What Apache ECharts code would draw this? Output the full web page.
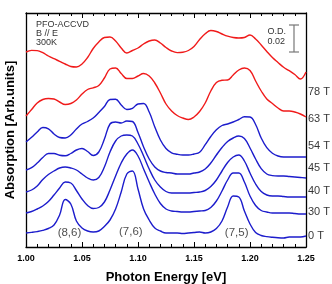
<!DOCTYPE html>
<html><head><meta charset="utf-8">
<script src="https://cdn.jsdelivr.net/npm/echarts@6/dist/echarts.min.js"></script>
<style>html,body{margin:0;padding:0;background:#fff}#c{width:332px;height:284px}</style>
</head><body><div id="c"></div>
<script>
// Photon energy grid (eV)
const energies = [1.000,1.005,1.010,1.015,1.020,1.025,1.030,1.035,1.040,1.045,1.050,1.055,1.060,1.065,1.070,1.075,1.080,1.085,1.090,1.095,1.100,1.105,1.110,1.115,1.120,1.125,1.130,1.135,1.140,1.145,1.150,1.155,1.160,1.165,1.170,1.175,1.180,1.185,1.190,1.195,1.200,1.205,1.210,1.215,1.220,1.225,1.230,1.235,1.240,1.245,1.250];
// Absorption (arb. units, offset traces)
const abs0T  = [14,14.6,15.4,16.6,18.5,22,32,47.5,43,26,19,16,15,16,20.5,27,38,55,73,76,58,38,27,19,16,14,14,14,13.5,14,14.5,15,14,15,18.5,26,40,51,50,36,23,14.5,11.5,10.4,9.7,9.2,9,10,10,10,11];
const abs30T = [34,35.5,38,41,45.5,52,59,65,64,56.5,48,41.5,38.5,39.5,45,57,71,84,93,97,91,78,65,53,43.5,38,36,35.5,35,35,35.5,36,36.5,39.5,46,56,67,74,74,65,51,41.5,36.5,35,34,34,34,34,33.5,33,33];
const abs40T = [55,57,61,67.5,72.5,76,79,80,79,77,73,69,67,69.5,80,95,106,111,112,111,103,91,78,67,60,55.5,54,54,54,54,54.5,55,56.5,60.5,67,76,84.5,90,92,86,74,63,55.5,52,51,51,50.5,50,50,50,50];
const abs45T = [77,79.4,84,89.5,93.5,93.5,91.7,91.2,93.5,97,98.5,95.5,91.5,95,108,123,125,124,126,125.5,114.5,100,88,80,76,74.5,74,73,73,73,74,75,78,84,92,99.5,105.5,109,111,108.5,99,88,78.3,73,71.4,71,71,70.5,70,69.5,69];
const abs54T = [105,109.7,115,119.5,118.2,113,109.5,109,112,118,123,125.5,129,134.5,140.5,147.5,147.7,142,137.5,138.7,143,143.5,135,120,107,98.5,94.2,92.7,92,92,93,94.7,102.3,110.5,117.2,121.5,123,125,127.5,130.2,130,122.5,109,99.3,93.8,91,90,90,90,90,90];
const abs63T = [131,137.5,144,147.5,148.5,148,145,142.5,143.5,147,153,157.5,159.2,161.5,169,178,179,173.5,168.5,168.5,171,173.5,171,164,154,143,136,131.5,129,127.5,130,135.5,144,156,164.5,166.7,167,172,177,179,176.5,166,156,148,143.5,139,136,136,135,133,130];
const abs78T = [195,196.6,196.4,194.3,191,188.3,185.7,183,180.5,180,183,189.5,198.5,205,209.5,210,206,199,194,196.5,199,203,206,207,204,199.5,196,194.4,194.8,196.5,200.5,207.5,213.2,216.5,215.5,213,210.8,209.5,209,209.5,212,208,202,195.5,189.5,184.5,179.7,176.3,172.5,168,175];
// Field labels on the right edge
const fieldNames  = ['0 T','30 T','40 T','45 T','54 T','63 T','78 T'];
const fieldLevels = [11,35,56,79,101,128,155];
// Peak assignment labels
const peakNames    = ['(8,6)','(7,6)','(7,5)'];
const peakEnergies = [1.0388,1.0936,1.1881];
const peakLevels   = [14.3,14.7,14.3];

const RED = '#f01a1a', BLUE = '#1c1ccc';
const FONT = 'Liberation Sans, Arial, sans-serif';
const traces = [
  {name:'0 T', d:abs0T, c:BLUE},{name:'30 T', d:abs30T, c:BLUE},{name:'40 T', d:abs40T, c:BLUE},
  {name:'45 T', d:abs45T, c:BLUE},{name:'54 T', d:abs54T, c:BLUE},{name:'63 T', d:abs63T, c:RED},
  {name:'78 T', d:abs78T, c:RED}
];
const series = traces.map(t => ({
  type:'line', name:t.name, data: energies.map((e,i)=>[e,t.d[i]]),
  showSymbol:false, symbol:'none', smooth:0.4,
  lineStyle:{color:t.c, width:1.4}, itemStyle:{color:t.c}, z:3
}));
series.push({
  type:'scatter', name:'fields', clip:false, symbolSize:0,
  data: fieldNames.map((n,i)=>({name:n, value:[1.25, fieldLevels[i]]})),
  label:{show:true, position:'right', distance:2, formatter:p=>p.name,
         fontFamily:FONT, fontSize:11, color:'#000'}
});
series.push({
  type:'scatter', name:'peaks', clip:false, symbolSize:0,
  data: peakNames.map((n,i)=>({name:n, value:[peakEnergies[i], peakLevels[i]]})),
  label:{show:true, position:'inside', formatter:p=>p.name,
         fontFamily:FONT, fontSize:11.5, color:'#222'}
});

const axisLine = {show:true, onZero:false, lineStyle:{color:'#000', width:1.3}};
const chart = echarts.init(document.getElementById('c'), null, {renderer:'canvas'});
chart.setOption({
  animation:false,
  grid:{left:26, right:26, top:13, bottom:37, containLabel:false, outerBoundsMode:'none'},
  xAxis:[{
    type:'value', min:1.0, max:1.25, interval:0.05, position:'bottom',
    axisLine, splitLine:{show:false},
    axisTick:{show:true, inside:true, length:5, lineStyle:{color:'#000', width:1}},
    minorTick:{show:true, splitNumber:5, length:3, lineStyle:{color:'#000', width:1}},
    axisLabel:{formatter:v=>v.toFixed(2), fontFamily:FONT, fontWeight:'bold', fontSize:9, color:'#000', margin:7},
    name:'Photon Energy [eV]', nameLocation:'middle', nameGap:24,
    nameTextStyle:{fontFamily:FONT, fontWeight:'bold', fontSize:13, color:'#000'}
  },{
    type:'value', min:1.0, max:1.25, interval:0.05, position:'top',
    axisLine, splitLine:{show:false},
    axisTick:{show:true, inside:true, length:5, lineStyle:{color:'#000', width:1}},
    minorTick:{show:true, splitNumber:5, length:3, lineStyle:{color:'#000', width:1}},
    axisLabel:{show:false}
  }],
  yAxis:[{
    type:'value', min:0, max:234, position:'left',
    axisLine, splitLine:{show:false}, axisTick:{show:false}, axisLabel:{show:false},
    name:'Absorption [Arb.units]', nameLocation:'middle', nameGap:9,
    nameTextStyle:{fontFamily:FONT, fontWeight:'bold', fontSize:13, color:'#000'}
  },{
    type:'value', min:0, max:234, position:'right',
    axisLine, splitLine:{show:false}, axisTick:{show:false}, axisLabel:{show:false}
  }],
  graphic:[
    {type:'text', left:36, top:20, style:{text:'PFO-ACCVD\nB // E\n300K', font:'9px '+FONT, fill:'#333', lineHeight:9.2}},
    {type:'text', right:46, top:27, style:{text:'O.D.\n0.02', font:'9px '+FONT, fill:'#333', lineHeight:10, align:'right'}},
    {type:'line', shape:{x1:294, y1:25, x2:294, y2:52}, style:{stroke:'#777', lineWidth:1.2}},
    {type:'line', shape:{x1:289, y1:25, x2:299, y2:25}, style:{stroke:'#777', lineWidth:1.2}},
    {type:'line', shape:{x1:289, y1:52, x2:299, y2:52}, style:{stroke:'#777', lineWidth:1.2}}
  ],
  series
});
</script></body></html>
